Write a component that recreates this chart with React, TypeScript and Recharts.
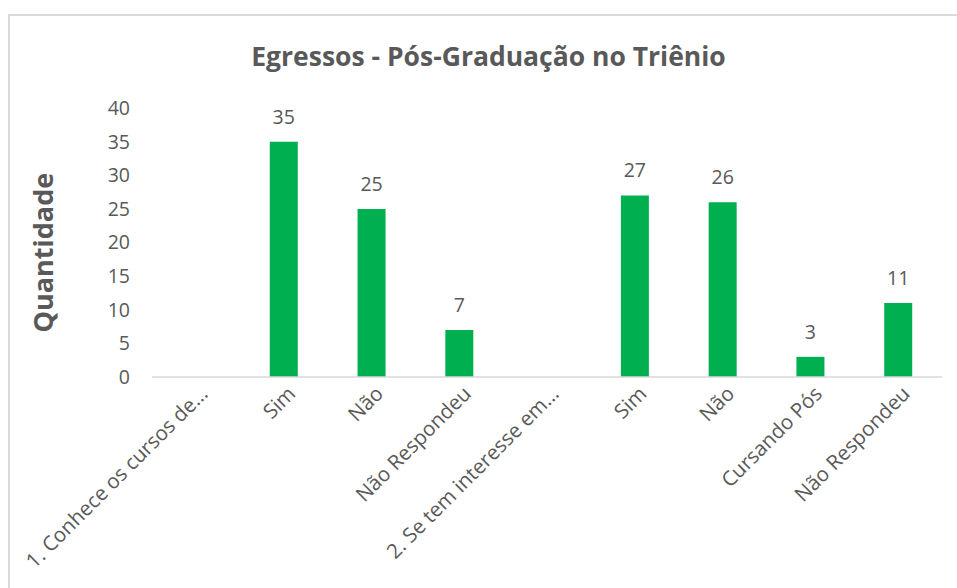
import { Bar, BarChart, LabelList, XAxis, YAxis } from "recharts";

const categories = [
  "1. Conhece os cursos de...",
  "Sim",
  "Não",
  "Não Respondeu",
  "2. Se tem interesse em...",
  "Sim",
  "Não",
  "Cursando Pós",
  "Não Respondeu",
];
const quantidade: (number | null)[] = [null, 35, 25, 7, null, 27, 26, 3, 11];
const yTicks = [0, 5, 10, 15, 20, 25, 30, 35, 40];

const FONT = "'Open Sans', sans-serif";
const GRAY = "#595959";

const rows = categories.map((name, i) => ({ key: `${i}`, name, value: quantidade[i] }));

function SlantTick({ x, y, payload }: any) {
  const label = categories[Number(payload.value)];
  const ax = x + 8;
  const ay = y + 5;
  return (
    <text
      x={ax}
      y={ay}
      dy="0.35em"
      textAnchor="end"
      transform={`rotate(-45, ${ax}, ${ay})`}
      fill={GRAY}
      fontSize={20.5}
      fontFamily={FONT}
    >
      {label}
    </text>
  );
}

export default function App() {
  return (
    <div style={{ width: 957, height: 588, padding: 8, boxSizing: "border-box", background: "#fff" }}>
      <style>{"body{margin:0}"}</style>
      <div style={{ position: "relative", width: 949, height: 580, overflow: "hidden" }}>
        <div
          style={{
            position: "absolute",
            left: 0,
            top: 6,
            width: 1000,
            height: 700,
            border: "2px solid #d9d9d9",
          }}
        />
        <div
          style={{
            position: "absolute",
            left: 0,
            top: 30,
            width: 949,
            boxSizing: "border-box",
            paddingLeft: 12,
            textAlign: "center",
            fontFamily: FONT,
            fontWeight: 700,
            fontSize: 26.5,
            color: GRAY,
          }}
        >
          Egressos - Pós-Graduação no Triênio
        </div>
        <div style={{ position: "absolute", left: 0, top: 0 }}>
          <BarChart
            width={949}
            height={572}
            data={rows}
            margin={{ top: 100, right: 15, left: 84, bottom: 0 }}
          >
            <XAxis
              dataKey="key"
              interval={0}
              height={203}
              tickLine={false}
              axisLine={{ stroke: "#d9d9d9", strokeWidth: 1.5 }}
              tick={<SlantTick />}
            />
            <YAxis
              width={60}
              domain={[0, 40]}
              ticks={yTicks}
              interval={0}
              axisLine={false}
              tickLine={false}
              tickSize={0}
              tickMargin={22}
              tick={{ fill: GRAY, fontSize: 19.5, fontFamily: FONT }}
              label={{
                value: "Quantidade",
                angle: -90,
                position: "insideLeft",
                dx: -54,
                dy: 90,
                style: { fill: GRAY, fontSize: 27, fontWeight: 700, fontFamily: FONT },
              }}
            />
            <Bar dataKey="value" fill="#00B050" barSize={28} isAnimationActive={false}>
              <LabelList
                dataKey="value"
                position="top"
                offset={18}
                fill={GRAY}
                fontSize={19.5}
                fontFamily={FONT}
              />
            </Bar>
          </BarChart>
        </div>
      </div>
    </div>
  );
}
